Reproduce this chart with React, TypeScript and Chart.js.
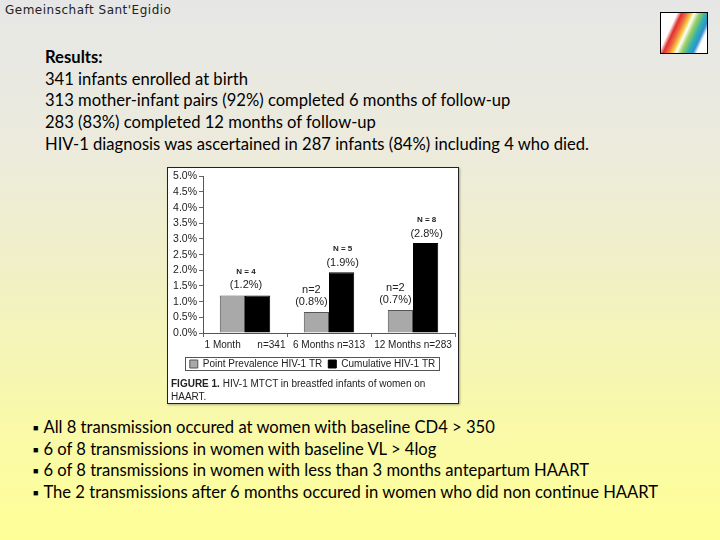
import React, { useEffect, useRef } from "react";
import { Chart, registerables } from "chart.js";

Chart.register(...registerables);

const categories = ["1 Month      n=341", "6 Months n=313", "12 Months n=283"];
const pointPrevalence = [1.2, 0.67, 0.73];
const cumulative = [1.2, 1.94, 2.87];
const pointLabels: (string[] | null)[] = [null, ["n=2", "(0.8%)"], ["n=2", "(0.7%)"]];
const cumulativeLabels: string[][] = [["N = 4", "(1.2%)"], ["N = 5", "(1.9%)"], ["N = 8", "(2.8%)"]];
const seriesNames = ["Point Prevalence HIV-1 TR", "Cumulative HIV-1 TR"];
const yTicks = [0, 0.5, 1, 1.5, 2, 2.5, 3, 3.5, 4, 4.5, 5];

const resultLines = [
  "341 infants enrolled at birth",
  "313 mother-infant pairs (92%) completed 6 months of follow-up",
  "283 (83%) completed 12 months of follow-up",
  "HIV-1 diagnosis was ascertained in 287 infants (84%) including 4 who died.",
];
const bullets = [
  "All 8 transmission occured at women with baseline CD4 > 350",
  "6 of 8 transmissions in women with baseline VL > 4log",
  "6 of 8 transmissions in women with less than 3 months antepartum HAART",
  "The 2 transmissions after 6 months occured in women who did non continue HAART",
];

const FONT = "'Liberation Sans', Arial, sans-serif";

const annotate = {
  id: "annotate",
  afterDatasetsDraw(chart: any) {
    const ctx = chart.ctx;
    const m0 = chart.getDatasetMeta(0);
    const m1 = chart.getDatasetMeta(1);
    ctx.save();
    ctx.fillStyle = "#222";
    ctx.textAlign = "center";
    ctx.textBaseline = "middle";
    const draw = (x: number, top: number, lines: string[], gap: number) => {
      if (lines[0].startsWith("N")) {
        ctx.font = `bold 8px ${FONT}`;
        ctx.fillText(lines[0], x, top - gap - 14);
      } else {
        ctx.font = `11px ${FONT}`;
        ctx.fillText(lines[0], x, top - gap - 12);
      }
      ctx.font = `11px ${FONT}`;
      ctx.fillText(lines[1], x, top - gap);
    };
    for (let i = 0; i < categories.length; i++) {
      const g = m0.data[i];
      const b = m1.data[i];
      const pl = pointLabels[i];
      if (pl) {
        draw(g.x - 5, g.y, pl, 10);
        draw(b.x + 1, b.y, cumulativeLabels[i], 9);
      } else {
        draw((g.x + b.x) / 2 + 1, Math.min(g.y, b.y), cumulativeLabels[i], 10);
      }
    }
    ctx.restore();
  },
  afterDraw(chart: any) {
    const lg = chart.legend;
    if (!lg || !lg.legendHitBoxes || !lg.legendHitBoxes.length) return;
    const hb = lg.legendHitBoxes;
    const left = Math.min(...hb.map((h: any) => h.left)) - 5;
    const right = Math.max(...hb.map((h: any) => h.left + h.width)) + 4;
    const top = Math.min(...hb.map((h: any) => h.top)) - 2;
    const bottom = Math.max(...hb.map((h: any) => h.top + h.height)) + 1;
    const ctx = chart.ctx;
    ctx.save();
    ctx.strokeStyle = "#555";
    ctx.lineWidth = 1;
    ctx.strokeRect(Math.round(left) + 0.5, Math.round(top) + 0.5, Math.round(right - left), Math.round(bottom - top));
    ctx.restore();
  },
};

function BarChart() {
  const ref = useRef<HTMLCanvasElement>(null);
  useEffect(() => {
    if (!ref.current) return;
    const chart = new Chart(ref.current, {
      type: "bar",
      data: {
        labels: categories,
        datasets: [
          {
            label: seriesNames[0],
            data: pointPrevalence,
            backgroundColor: "#a9a9a9",
            borderColor: "#555",
            borderWidth: 1,
          },
          {
            label: seriesNames[1],
            data: cumulative,
            backgroundColor: "#000",
            borderColor: "#000",
            borderWidth: 1,
          },
        ],
      },
      options: {
        animation: false,
        responsive: true,
        maintainAspectRatio: false,
        layout: { padding: { top: 4, right: 3, left: 2, bottom: 3 } },
        datasets: { bar: { categoryPercentage: 0.6, barPercentage: 1.0 } },
        scales: {
          x: {
            grid: { display: true, drawOnChartArea: false, drawTicks: true, tickLength: 4, color: "#666" },
            border: { color: "#555" },
            ticks: { color: "#222", font: { size: 10, family: FONT }, padding: 2, maxRotation: 0, autoSkip: false },
          },
          y: {
            min: 0,
            max: 5,
            afterBuildTicks: (s: any) => {
              s.ticks = yTicks.map((v) => ({ value: v }));
            },
            afterFit: (s: any) => {
              s.width = 33;
            },
            grid: { display: true, drawOnChartArea: false, drawTicks: true, tickLength: 4, color: "#666" },
            border: { color: "#555" },
            ticks: {
              color: "#222",
              autoSkip: false,
              font: { size: 10.5, family: FONT },
              padding: 2,
              callback: (v: any) => Number(v).toFixed(1) + "%",
            },
          },
        },
        plugins: {
          legend: {
            position: "bottom",
            labels: {
              boxWidth: 8,
              boxHeight: 8,
              padding: 6,
              color: "#222",
              font: { size: 10, family: FONT },
            },
          },
          tooltip: { enabled: false },
        },
      },
      plugins: [annotate],
    });
    return () => chart.destroy();
  }, []);
  return <canvas ref={ref} />;
}

export default function App() {
  useEffect(() => {
    document.body.style.margin = "0";
  }, []);
  const textFont = "Lato, 'Open Sans', sans-serif";
  return (
    <div
      style={{
        position: "fixed",
        left: 0,
        top: 0,
        width: 720,
        height: 540,
        overflow: "hidden",
        background:
          "linear-gradient(180deg, #e6e6e6 0%, #e8e8e4 8%, #ecebdc 28%, #f1f0c6 50%, #f8f8ac 75%, #ffff98 100%)",
        fontFamily: textFont,
        color: "#000",
      }}
    >
      <div style={{ position: "absolute", left: 5, top: 3, fontSize: 12, fontFamily: "'DejaVu Sans', sans-serif", color: "#222", letterSpacing: 0.5 }}>
        Gemeinschaft Sant'Egidio
      </div>
      <div
        style={{
          position: "absolute",
          left: 660,
          top: 12,
          width: 46,
          height: 40,
          border: "1px solid #000",
          background:
            "linear-gradient(115deg, #fff 0%, #fff 25%, #e03030 32%, #f07040 40%, #f5d040 47%, #fff 52%, #9ccf60 60%, #30b0b0 70%, #3090d0 78%, #fff 84%)",
        }}
      />
      <div style={{ position: "absolute", left: 45, top: 47, fontSize: 16.6, lineHeight: "21.7px" }}>
        <div style={{ fontWeight: "bold" }}>Results:</div>
        {resultLines.map((l, i) => (
          <div key={i}>{l}</div>
        ))}
      </div>
      <div
        style={{
          position: "absolute",
          left: 167,
          top: 167,
          width: 290,
          height: 235,
          background: "#fff",
          border: "1px solid #222",
          boxShadow: "1px 1px 2px rgba(0,0,0,0.3)",
        }}
      >
        <div style={{ position: "absolute", left: 0, top: 0, width: 290, height: 214 }}>
          <BarChart />
        </div>
        <div style={{ position: "absolute", left: 3, top: 209, fontFamily: FONT, fontSize: 10, lineHeight: "13px", color: "#222" }}>
          <b>FIGURE 1.</b> HIV-1 MTCT in breastfed infants of women on
          <br />
          HAART.
        </div>
      </div>
      <div style={{ position: "absolute", left: 33, top: 417, fontSize: 16.6, lineHeight: "21.7px" }}>
        {bullets.map((b, i) => (
          <div key={i}>
            <span style={{ fontSize: 9, verticalAlign: "2px", marginRight: 5 }}>■</span>
            {b}
          </div>
        ))}
      </div>
    </div>
  );
}
